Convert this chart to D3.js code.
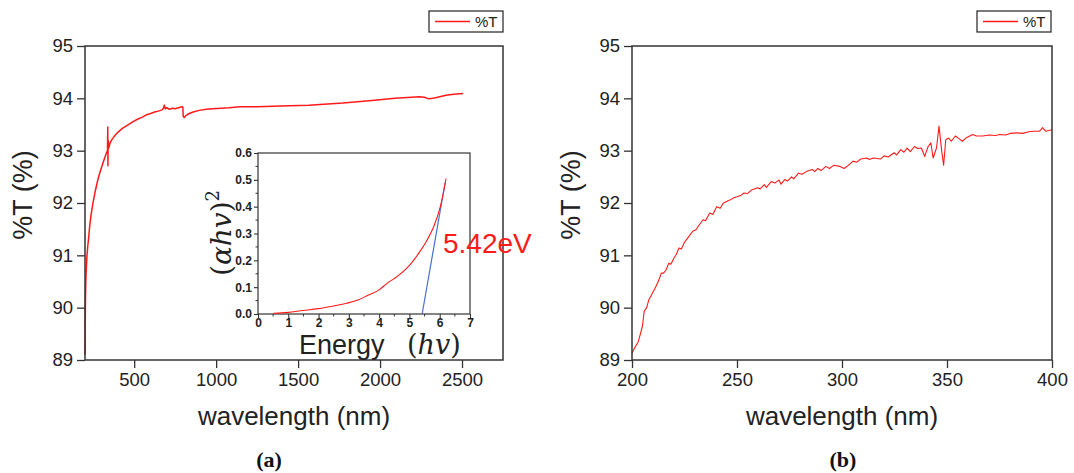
<!DOCTYPE html>
<html><head><meta charset="utf-8">
<script src="https://cdn.jsdelivr.net/npm/d3@7"></script>
<style>
html,body{margin:0;padding:0;background:#fff;}
svg{display:block;}
</style></head>
<body>
<svg id="chart" width="1074" height="473"></svg>
<script>
// ---------------- DATA ----------------
// Panel (a): full-range transmittance
const waveA = [200,201,202,203,205,208,211.5,216,222,228,236,242,248,255,262,270,278,286,295,309,320,330,337,339,340,341,345,352,360,370,385,400,430,460,491,520,550,572,600,625,653,670,680,684,690,700,715,734,750,770,791,797,799,805,815,836,860,897,940,978,1030,1079,1146,1250,1350,1450,1565,1680,1774,1880,1983,2090,2193,2240,2270,2297,2320,2339,2402,2450,2507];
const transA = [89.10,89.40,89.90,90.20,90.50,90.75,90.97,91.15,91.33,91.54,91.75,91.87,91.99,92.10,92.22,92.33,92.44,92.53,92.62,92.76,92.86,92.95,93.00,93.45,92.71,93.20,93.05,93.14,93.19,93.24,93.30,93.35,93.43,93.49,93.55,93.60,93.64,93.68,93.71,93.74,93.76,93.78,93.82,93.87,93.80,93.82,93.79,93.81,93.80,93.82,93.84,93.83,93.66,93.63,93.67,93.71,93.74,93.77,93.79,93.80,93.81,93.82,93.84,93.84,93.85,93.86,93.87,93.89,93.91,93.94,93.97,94.00,94.02,94.03,94.02,93.99,94.00,94.01,94.06,94.08,94.09];

// Panel (b): UV region transmittance
const waveB = [200,201.5,203,204,205,205.8,207,208,209,210,211,212.5,214,215,216.2,217.5,218.5,220,221,222.4,223.5,225,226.5,228.9,230.5,232,233.8,235,237,238.5,240.3,242,243.5,245,246.8,248.5,250,252,253.3,255,257,259.8,261,263,264,266.3,268,270,271,272.8,274,276,277,279.3,281,283,285.8,287,288.5,290,292.3,294,296,298.8,301,303,305.3,307,309,311.8,313,315,318.3,320,322,324.8,326,328,329.5,331,332.5,334.5,336,337.8,339.4,341,342.3,343.4,345,346.2,347.4,348.4,349.4,350.8,352,354,356,357.3,359,362.2,364,367,370,373,375.1,378,380,383.3,386,389,391.4,394,395.5,397,400];
const transB = [89.13,89.25,89.35,89.50,89.65,89.93,90.00,90.15,90.22,90.30,90.37,90.50,90.66,90.66,90.72,90.85,90.83,90.95,91.01,91.14,91.12,91.25,91.33,91.46,91.49,91.58,91.68,91.66,91.81,91.78,91.93,91.90,92.00,92.03,92.06,92.10,92.12,92.15,92.19,92.18,92.25,92.29,92.27,92.35,92.30,92.41,92.38,92.44,92.36,92.45,92.42,92.50,92.46,92.57,92.55,92.60,92.64,92.60,92.66,92.62,92.70,92.66,92.72,92.70,92.66,92.72,92.80,92.78,92.84,92.86,92.83,92.86,92.84,92.90,92.88,92.96,92.92,93.02,92.97,93.05,92.98,93.08,93.04,93.05,92.89,93.08,93.15,92.86,93.05,93.47,93.02,92.72,93.21,93.24,93.18,93.28,93.22,93.18,93.24,93.31,93.28,93.28,93.30,93.29,93.31,93.30,93.33,93.34,93.33,93.36,93.37,93.37,93.44,93.37,93.40];

// Inset: Tauc plot
const energy = [0.51,1.0,1.4,2.0,2.5,2.93,3.3,3.6,4.0,4.26,4.6,5.03,5.3,5.58,5.8,6.02,6.1,6.21];
const tauc   = [0.003,0.006,0.012,0.020,0.030,0.040,0.052,0.068,0.090,0.114,0.140,0.185,0.225,0.275,0.325,0.400,0.440,0.505];
const fitEnergy = [5.42,6.18];
const fitTauc   = [0.0,0.49];
const gapLabel = "5.42eV";

// Tick values
const yTicksMain = [89,90,91,92,93,94,95];
const xTicksA = [500,1000,1500,2000,2500];
const xTicksB = [200,250,300,350,400];
const yTicksInset = [0,0.1,0.2,0.3,0.4,0.5,0.6];
const xTicksInset = [0,1,2,3,4,5,6,7];
const legendName = "%T";

// ---------------- DRAWING ----------------
const svg = d3.select("#chart");
const AX = "#333";
const RED = "#ff1a1a";
const SANS = "'Liberation Sans', Arial, sans-serif";
const SERIF = "'Liberation Serif', 'Times New Roman', serif";
const MATH = "'DejaVu Serif', serif";

function panel(cfg){
  const x = d3.scaleLinear().domain(cfg.xDomain).range([cfg.left, cfg.right]);
  const y = d3.scaleLinear().domain([89,95]).range([cfg.bottom, cfg.top]);
  const g = svg.append("g");

  const pts = cfg.xs.map((v,i)=>[v, cfg.ys[i]]);
  g.append("path").datum(pts)
    .attr("fill","none").attr("stroke",RED).attr("stroke-width",cfg.lw)
    .attr("stroke-linejoin","round")
    .attr("d", d3.line().x(d=>x(d[0])).y(d=>y(d[1])));

  const ya = g.append("g").attr("transform",`translate(${cfg.left},0)`)
    .call(d3.axisLeft(y).tickValues(yTicksMain).tickSize(8).tickPadding(4).tickFormat(d3.format("d")));
  const xa = g.append("g").attr("transform",`translate(0,${cfg.bottom})`)
    .call(d3.axisBottom(x).tickValues(cfg.xTicks).tickSize(8).tickPadding(5).tickFormat(d3.format("d")));
  [ya,xa].forEach(a=>{
    a.select(".domain").remove();
    a.selectAll("line").attr("stroke",AX).attr("stroke-width",1.3);
    a.selectAll("text").attr("font-family",SANS).attr("font-size",18.5).attr("fill","#222");
  });
  g.append("rect").attr("x",cfg.left).attr("y",cfg.top)
    .attr("width",cfg.right-cfg.left).attr("height",cfg.bottom-cfg.top)
    .attr("fill","none").attr("stroke",AX).attr("stroke-width",1.5);

  g.append("text").attr("transform",`translate(${cfg.yLabelX},${(cfg.top+cfg.bottom)/2-8}) rotate(-90)`)
    .attr("text-anchor","middle").attr("font-family",SANS).attr("font-size",27).attr("fill","#222")
    .text("%T (%)");
  g.append("text").attr("x",(cfg.left+cfg.right)/2).attr("y",425)
    .attr("text-anchor","middle").attr("font-family",SANS).attr("font-size",26).attr("fill","#222")
    .text("wavelength (nm)");
  g.append("text").attr("x",cfg.tagX).attr("y",467)
    .attr("text-anchor","middle").attr("font-family",SERIF).attr("font-weight","bold").attr("font-size",22).attr("fill","#111")
    .text(cfg.tag);

  const lg = g.append("g");
  lg.append("rect").attr("x",cfg.legX).attr("y",11).attr("width",74).attr("height",21)
    .attr("fill","#fff").attr("stroke","#222").attr("stroke-width",1.2);
  lg.append("line").attr("x1",cfg.legX+6).attr("x2",cfg.legX+41).attr("y1",21.5).attr("y2",21.5)
    .attr("stroke",RED).attr("stroke-width",1.4);
  lg.append("text").attr("x",cfg.legX+46).attr("y",27).attr("font-family",SANS).attr("font-size",15).attr("fill","#222")
    .text(legendName);
  return g;
}

panel({left:85, right:503, top:46, bottom:360, xDomain:[200,2750], xs:waveA, ys:transA, xTicks:xTicksA,
       lw:1.5, yLabelX:32, tag:"(a)", tagX:269, legX:429});
panel({left:632, right:1052, top:46, bottom:360, xDomain:[200,400], xs:waveB, ys:transB, xTicks:xTicksB,
       lw:1.1, yLabelX:580, tag:"(b)", tagX:843, legX:977});

// ---------------- INSET ----------------
const iL=258, iR=470, iT=153, iB=314;
const ix = d3.scaleLinear().domain([0,7]).range([iL,iR]);
const iy = d3.scaleLinear().domain([0,0.6]).range([iB,iT]);
const ig = svg.append("g");
ig.append("rect").attr("x",iL).attr("y",iT).attr("width",iR-iL).attr("height",iB-iT)
  .attr("fill","#fff").attr("stroke","none");

const ixMinor = d3.range(0.5,7,1);
const iyMinor = d3.range(0.05,0.6,0.1);
ig.selectAll(".mx").data(ixMinor).enter().append("line")
  .attr("x1",d=>ix(d)).attr("x2",d=>ix(d)).attr("y1",iB).attr("y2",iB+2.5).attr("stroke",AX).attr("stroke-width",1);
ig.selectAll(".my").data(iyMinor).enter().append("line")
  .attr("y1",d=>iy(d)).attr("y2",d=>iy(d)).attr("x1",iL).attr("x2",iL-2.5).attr("stroke",AX).attr("stroke-width",1);

const iya = ig.append("g").attr("transform",`translate(${iL},0)`)
  .call(d3.axisLeft(iy).tickValues(yTicksInset).tickSize(4).tickPadding(2).tickFormat(d3.format(".1f")));
const ixa = ig.append("g").attr("transform",`translate(0,${iB})`)
  .call(d3.axisBottom(ix).tickValues(xTicksInset).tickSize(4).tickPadding(0).tickFormat(d3.format("d")));
[iya,ixa].forEach(a=>{
  a.select(".domain").remove();
  a.selectAll("line").attr("stroke",AX).attr("stroke-width",1.1);
  a.selectAll("text").attr("font-family",SANS).attr("font-weight","bold").attr("font-size",12).attr("fill","#222");
});
ig.append("rect").attr("x",iL).attr("y",iT).attr("width",iR-iL).attr("height",iB-iT)
  .attr("fill","none").attr("stroke",AX).attr("stroke-width",1.2);

ig.append("path").datum(fitEnergy.map((e,i)=>[e,fitTauc[i]]))
  .attr("fill","none").attr("stroke","#4a6fd0").attr("stroke-width",1.2)
  .attr("d", d3.line().x(d=>ix(d[0])).y(d=>iy(d[1])));
ig.append("path").datum(energy.map((e,i)=>[e,tauc[i]]))
  .attr("fill","none").attr("stroke",RED).attr("stroke-width",1.1)
  .attr("d", d3.line().curve(d3.curveMonotoneX).x(d=>ix(d[0])).y(d=>iy(d[1])));

const yt = ig.append("text").attr("transform","translate(231,233) rotate(-90)")
  .attr("text-anchor","middle").attr("font-family",MATH).attr("font-size",28).attr("fill","#222");
yt.append("tspan").text("(");
yt.append("tspan").attr("font-style","italic").text("αhv");
yt.append("tspan").text(")");
yt.append("tspan").attr("font-size",18).attr("dy",-12).text("2");

const xt = ig.append("text").attr("x",299).attr("y",354).attr("fill","#222")
  .attr("font-family",SANS).attr("font-size",27).text("Energy");
const xt2 = ig.append("text").attr("x",407).attr("y",354).attr("fill","#222")
  .attr("font-family",MATH).attr("font-size",27);
xt2.append("tspan").text("(");
xt2.append("tspan").attr("font-style","italic").text("hv");
xt2.append("tspan").text(")");

svg.append("text").attr("x",443).attr("y",253).attr("font-family",SANS).attr("font-size",28)
  .attr("fill","#ff1a1a").text(gapLabel);
</script>
</body></html>
